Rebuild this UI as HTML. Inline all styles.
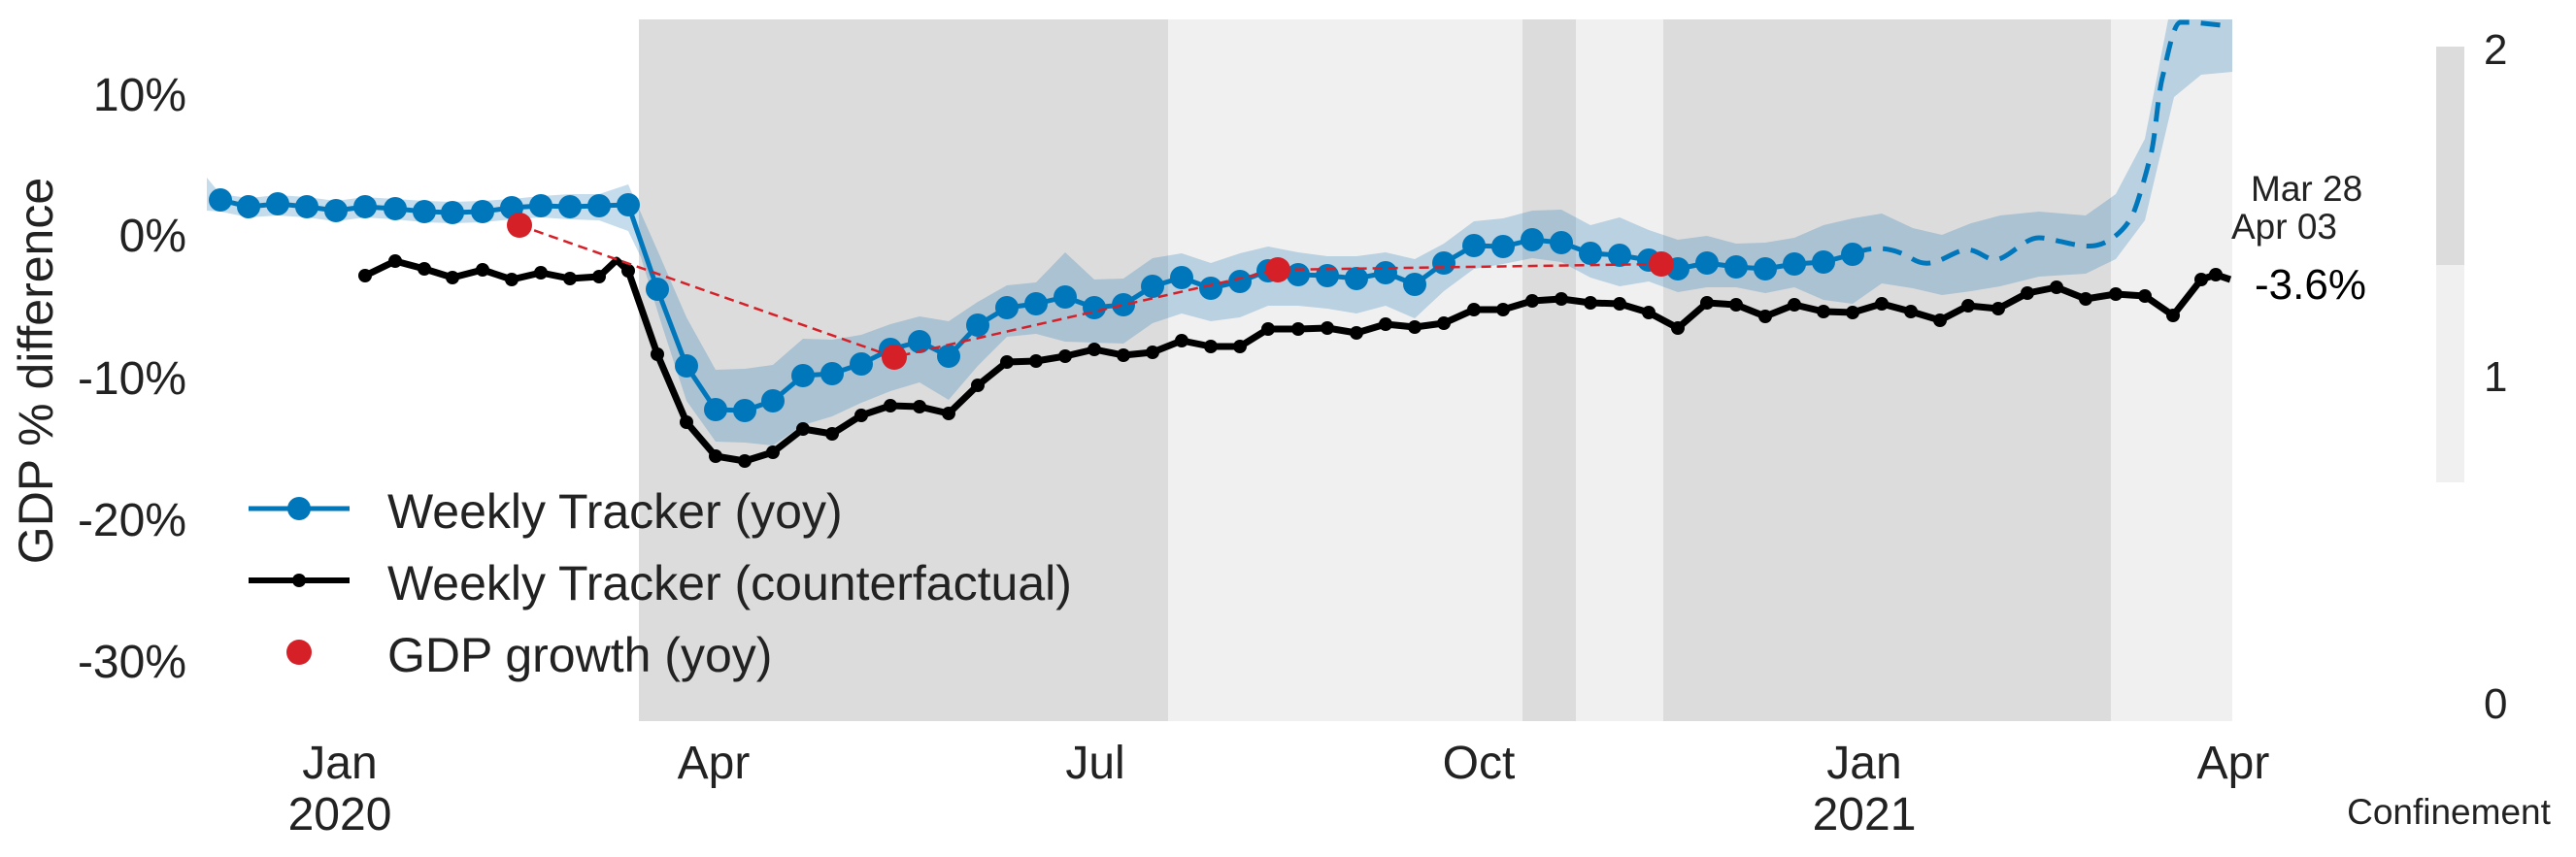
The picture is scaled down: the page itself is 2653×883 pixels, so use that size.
<!DOCTYPE html>
<html><head><meta charset="utf-8"><style>
html,body{margin:0;padding:0;background:#fff;}
svg{display:block;font-family:"Liberation Sans",sans-serif;}
</style></head><body>
<svg width="2653" height="883" viewBox="0 0 2653 883" xmlns="http://www.w3.org/2000/svg">
<rect width="2653" height="883" fill="#fff"/>
<rect x="658" y="20" width="545" height="723" fill="#dcdcdc"/>
<rect x="1203" y="20" width="365" height="723" fill="#f0f0f0"/>
<rect x="1568" y="20" width="55" height="723" fill="#dcdcdc"/>
<rect x="1623" y="20" width="90" height="723" fill="#f0f0f0"/>
<rect x="1713" y="20" width="461" height="723" fill="#dcdcdc"/>
<rect x="2174" y="20" width="125" height="723" fill="#f0f0f0"/>
<polygon fill="#2a7fb8" fill-opacity="0.27" points="213,183 227,200 256,204 286,201 316,203 346,207 376,203 407,205 437,207 466,208 497,207 527,205 557,202 587,200 617,200 647,190 678,260 707,327 737,381 767,380 796,376 827,349 857,350 887,345 917,334 947,326 977,331 1007,311 1037,294 1067,291 1097,260 1127,288 1157,287 1187,266 1217,261 1247,271 1277,261 1306,254 1337,260 1367,264 1397,264 1427,260 1457,267 1487,251 1518,228 1548,225 1578,217 1608,216 1638,232 1668,224 1698,237 1728,247 1758,243 1788,251 1818,250 1848,245 1878,232 1908,225 1938,220 1970,235 2000,242 2030,230 2060,222 2100,218 2148,222 2179,200 2209,143 2233,20 2299,20 2299,74 2267,77 2239,100 2209,227 2179,267 2148,282 2100,285 2060,295 2030,300 2000,304 1970,297 1938,292 1908,313 1878,309 1848,296 1818,302 1788,296 1758,296 1728,301 1698,290 1668,295 1638,286 1608,270 1578,266 1548,272 1518,277 1487,300 1457,328 1427,315 1397,323 1367,318 1337,315 1306,315 1277,327 1247,331 1217,323 1187,333 1157,354 1127,353 1097,352 1067,344 1037,347 1007,377 977,412 947,394 917,403 887,415 857,429 827,438 796,459 767,456 737,455 707,413 681,333 660,265 647,238 617,227 587,226 557,224 527,226 497,229 466,230 437,229 407,226 376,224 346,228 316,224 286,222 256,224 227,218 213,217"/>
<g>
<polyline fill="none" stroke="#000" stroke-width="7" stroke-linejoin="round" points="376,284 407,269 437,277 466,286 497,278 527,288 557,281 587,287 617,285 635,268 647,279 677,365 707,435 737,470 767,475 796,466 827,442 857,447 887,428 917,418 947,419 977,426 1007,397 1037,373 1067,372 1097,367 1127,360 1157,366 1187,363 1217,351 1247,357 1277,357 1306,339 1337,339 1367,338 1397,343 1427,334 1457,337 1487,333 1518,319 1548,319 1578,310 1608,308 1638,312 1668,313 1698,322 1728,338 1758,312 1788,314 1818,326 1848,314 1878,321 1908,322 1938,313 1968,321 1998,330 2027,315 2058,318 2088,302 2118,296 2148,308 2179,303 2209,305 2238,325 2267,288 2282,283 2297,288"/>
<g fill="#000">
<circle cx="376" cy="284" r="7"/><circle cx="407" cy="269" r="7"/><circle cx="437" cy="277" r="7"/><circle cx="466" cy="286" r="7"/><circle cx="497" cy="278" r="7"/><circle cx="527" cy="288" r="7"/><circle cx="557" cy="281" r="7"/><circle cx="587" cy="287" r="7"/><circle cx="617" cy="285" r="7"/><circle cx="647" cy="279" r="7"/><circle cx="677" cy="365" r="7"/><circle cx="707" cy="435" r="7"/><circle cx="737" cy="470" r="7"/><circle cx="767" cy="475" r="7"/><circle cx="796" cy="466" r="7"/><circle cx="827" cy="442" r="7"/><circle cx="857" cy="447" r="7"/><circle cx="887" cy="428" r="7"/><circle cx="917" cy="418" r="7"/><circle cx="947" cy="419" r="7"/><circle cx="977" cy="426" r="7"/><circle cx="1007" cy="397" r="7"/><circle cx="1037" cy="373" r="7"/><circle cx="1067" cy="372" r="7"/><circle cx="1097" cy="367" r="7"/><circle cx="1127" cy="360" r="7"/><circle cx="1157" cy="366" r="7"/><circle cx="1187" cy="363" r="7"/><circle cx="1217" cy="351" r="7"/><circle cx="1247" cy="357" r="7"/><circle cx="1277" cy="357" r="7"/><circle cx="1306" cy="339" r="7"/><circle cx="1337" cy="339" r="7"/><circle cx="1367" cy="338" r="7"/><circle cx="1397" cy="343" r="7"/><circle cx="1427" cy="334" r="7"/><circle cx="1457" cy="337" r="7"/><circle cx="1487" cy="333" r="7"/><circle cx="1518" cy="319" r="7"/><circle cx="1548" cy="319" r="7"/><circle cx="1578" cy="310" r="7"/><circle cx="1608" cy="308" r="7"/><circle cx="1638" cy="312" r="7"/><circle cx="1668" cy="313" r="7"/><circle cx="1698" cy="322" r="7"/><circle cx="1728" cy="338" r="7"/><circle cx="1758" cy="312" r="7"/><circle cx="1788" cy="314" r="7"/><circle cx="1818" cy="326" r="7"/><circle cx="1848" cy="314" r="7"/><circle cx="1878" cy="321" r="7"/><circle cx="1908" cy="322" r="7"/><circle cx="1938" cy="313" r="7"/><circle cx="1968" cy="321" r="7"/><circle cx="1998" cy="330" r="7"/><circle cx="2027" cy="315" r="7"/><circle cx="2058" cy="318" r="7"/><circle cx="2088" cy="302" r="7"/><circle cx="2118" cy="296" r="7"/><circle cx="2148" cy="308" r="7"/><circle cx="2179" cy="303" r="7"/><circle cx="2209" cy="305" r="7"/><circle cx="2238" cy="325" r="7"/><circle cx="2267" cy="288" r="7"/><circle cx="2282" cy="283" r="7"/>
</g></g>
<polyline fill="none" stroke="#0077bb" stroke-width="5" stroke-linejoin="round" points="227,206 256,213 286,210 316,213 346,217 376,213 407,215 437,218 466,219 497,218 527,214 557,212 587,213 617,212 647,211 677,298 707,377 737,422 767,423 796,413 827,387 857,385 887,375 917,360 947,352 977,367 1007,335 1037,317 1067,313 1097,306 1127,317 1157,314 1187,295 1217,286 1247,297 1277,290 1306,279 1337,283 1367,284 1397,287 1427,281 1457,293 1487,271 1518,253 1548,254 1578,247 1608,250 1638,261 1668,263 1698,268 1728,277 1758,271 1788,275 1818,277 1848,272 1878,270 1908,262"/>
<path fill="none" stroke="#0077bb" stroke-width="5" stroke-dasharray="20,12" d="M1908,262 C1930,252 1950,255 1970,267 S2005,262 2021,258 S2045,270 2058,267 S2085,245 2100,245 S2140,256 2158,253 S2192,232 2197,220 S2210,180 2215,160 S2222,100 2227,80 S2238,25 2245,23 L2260,23 L2297,27"/>
<g fill="#0077bb">
<circle cx="227" cy="206" r="12"/><circle cx="256" cy="213" r="12"/><circle cx="286" cy="210" r="12"/><circle cx="316" cy="213" r="12"/><circle cx="346" cy="217" r="12"/><circle cx="376" cy="213" r="12"/><circle cx="407" cy="215" r="12"/><circle cx="437" cy="218" r="12"/><circle cx="466" cy="219" r="12"/><circle cx="497" cy="218" r="12"/><circle cx="527" cy="214" r="12"/><circle cx="557" cy="212" r="12"/><circle cx="587" cy="213" r="12"/><circle cx="617" cy="212" r="12"/><circle cx="647" cy="211" r="12"/><circle cx="677" cy="298" r="12"/><circle cx="707" cy="377" r="12"/><circle cx="737" cy="422" r="12"/><circle cx="767" cy="423" r="12"/><circle cx="796" cy="413" r="12"/><circle cx="827" cy="387" r="12"/><circle cx="857" cy="385" r="12"/><circle cx="887" cy="375" r="12"/><circle cx="917" cy="360" r="12"/><circle cx="947" cy="352" r="12"/><circle cx="977" cy="367" r="12"/><circle cx="1007" cy="335" r="12"/><circle cx="1037" cy="317" r="12"/><circle cx="1067" cy="313" r="12"/><circle cx="1097" cy="306" r="12"/><circle cx="1127" cy="317" r="12"/><circle cx="1157" cy="314" r="12"/><circle cx="1187" cy="295" r="12"/><circle cx="1217" cy="286" r="12"/><circle cx="1247" cy="297" r="12"/><circle cx="1277" cy="290" r="12"/><circle cx="1306" cy="279" r="12"/><circle cx="1337" cy="283" r="12"/><circle cx="1367" cy="284" r="12"/><circle cx="1397" cy="287" r="12"/><circle cx="1427" cy="281" r="12"/><circle cx="1457" cy="293" r="12"/><circle cx="1487" cy="271" r="12"/><circle cx="1518" cy="253" r="12"/><circle cx="1548" cy="254" r="12"/><circle cx="1578" cy="247" r="12"/><circle cx="1608" cy="250" r="12"/><circle cx="1638" cy="261" r="12"/><circle cx="1668" cy="263" r="12"/><circle cx="1698" cy="268" r="12"/><circle cx="1728" cy="277" r="12"/><circle cx="1758" cy="271" r="12"/><circle cx="1788" cy="275" r="12"/><circle cx="1818" cy="277" r="12"/><circle cx="1848" cy="272" r="12"/><circle cx="1878" cy="270" r="12"/><circle cx="1908" cy="262" r="12"/>
</g>
<polyline fill="none" stroke="#d62028" stroke-width="2.5" stroke-dasharray="10,6" points="535,232 921,368 1316,278 1711,272"/>
<g fill="#d62028">
<circle cx="535" cy="232" r="13"/><circle cx="921" cy="368" r="13"/><circle cx="1316" cy="278" r="13"/><circle cx="1711" cy="272" r="13"/>
</g>
<g font-size="48" fill="#222" text-anchor="end">
<text x="192" y="114">10%</text>
<text x="192" y="259">0%</text>
<text x="192" y="406">-10%</text>
<text x="192" y="552">-20%</text>
<text x="192" y="698">-30%</text>
</g>
<text transform="translate(54,382) rotate(-90)" font-size="50" fill="#222" text-anchor="middle">GDP % difference</text>
<g font-size="48" fill="#222" text-anchor="middle">
<text x="350" y="802">Jan</text><text x="350" y="855">2020</text>
<text x="735" y="802">Apr</text>
<text x="1128" y="802">Jul</text>
<text x="1523" y="802">Oct</text>
<text x="1920" y="802">Jan</text><text x="1920" y="855">2021</text>
<text x="2300" y="802">Apr</text>
</g>
<text x="2318" y="207" font-size="37" fill="#222">Mar 28</text>
<text x="2298" y="246" font-size="37" fill="#222">Apr 03</text>
<text x="2322" y="308" font-size="44" fill="#000">-3.6%</text>
<g>
<line x1="256" y1="524" x2="360" y2="524" stroke="#0077bb" stroke-width="5"/>
<circle cx="308" cy="524" r="12" fill="#0077bb"/>
<line x1="256" y1="598" x2="360" y2="598" stroke="#000" stroke-width="6"/>
<circle cx="308" cy="598" r="7" fill="#000"/>
<circle cx="308" cy="672" r="13" fill="#d62028"/>
<g font-size="50" fill="#222">
<text x="399" y="544">Weekly Tracker (yoy)</text>
<text x="399" y="618">Weekly Tracker (counterfactual)</text>
<text x="399" y="692">GDP growth (yoy)</text>
</g>
</g>
<rect x="2509" y="48" width="29" height="225" fill="#dcdcdc"/>
<rect x="2509" y="273" width="29" height="224" fill="#f0f0f0"/>
<g font-size="44" fill="#222">
<text x="2558" y="66">2</text>
<text x="2558" y="403">1</text>
<text x="2558" y="740">0</text>
</g>
<text x="2522" y="849" font-size="37" fill="#222" text-anchor="middle">Confinement</text>
</svg>
</body></html>
